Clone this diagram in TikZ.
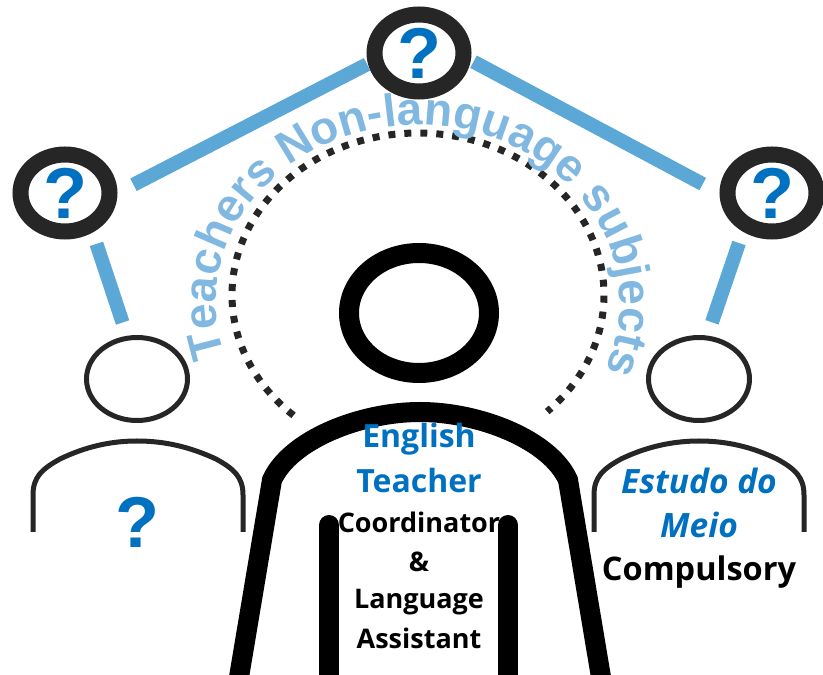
\documentclass[tikz,border=0pt]{standalone}
\usepackage{xcolor}
\usepackage{fontspec}
\setmainfont{Liberation Sans}
\newfontfamily\labelfont{Open Sans}
\usetikzlibrary{shapes.geometric, decorations.text}
\definecolor{inkdark}{HTML}{262626}
\definecolor{linkblue}{HTML}{5BA8D6}
\definecolor{arcblue}{HTML}{80B8E1}
\definecolor{textblue}{HTML}{0070C0}

\begin{document}
\begin{tikzpicture}[
      x=1pt, y=1pt,
      query/.style={ellipse, draw=inkdark, line width=16pt, fill=white, minimum width=89pt, minimum height=77pt, inner sep=0pt, text=textblue, font=\bfseries\fontsize{72}{72}\selectfont},
      head/.style={ellipse, draw=inkdark, line width=5pt, minimum width=101pt, minimum height=83pt},
      link/.style={draw=linkblue, line width=14pt},
      shoulder/.style={draw=inkdark, line width=5pt},
      limb/.style={line width=20pt},
      blue/.style={text=textblue, font=\labelfont\bfseries\fontsize{32}{32}\selectfont},
      black/.style={text=black, font=\labelfont\bfseries\fontsize{27}{27}\selectfont}
    ]
    \clip (0,0) rectangle (823,675);

    % Heads
    \node[head] (lefthead) at (137,296) {};
    \node[head] (righthead) at (699,296) {};
    \node[ellipse, draw=black, line width=20pt, minimum width=140pt, minimum height=120pt] (mainhead) at (419,362) {};

    % Question marks
    \node[query] (qleft) at (65,482) {\raisebox{-3pt}{?}};
    \node[query] (qtop) at (419,622) {\raisebox{-2pt}{?}};
    \node[query] (qright) at (772,482) {\raisebox{-3pt}{?}};

    % Links
    \draw[link, shorten <=12pt, shorten >=14pt] (qleft.-55) -- (lefthead.103);
    \draw[link, shorten <=18pt, shorten >=1pt] (qleft.east) -- (qtop.192);
    \draw[link, shorten <=3pt, shorten >=19pt] (qtop.-8) -- (qright.west);
    \draw[link, shorten <=12pt, shorten >=14pt] (qright.-127) -- (righthead.79);

    % Dotted arc
    \draw[inkdark, line width=7pt, dash pattern=on 7pt off 9pt] (418,380) ++(228:186 and 162) arc[start angle=228, end angle=-46, x radius=186, y radius=162];

    % Arc text
    \path[decorate, decoration={text along path, text align=center, text={|\bfseries\fontsize{46}{46}\selectfont\color{arcblue}|Teachers Non-language subjects}}]
      (418,372) ++(195:202 and 178) arc[start angle=195, end angle=-20, x radius=202, y radius=178];

    % Side bodies
    \draw[shoulder] (33,143) -- (33,180) .. controls (33,198) and (42,206) .. (60,216) .. controls (85,228) and (110,234) .. (137,234) .. controls (165,234) and (190,228) .. (216,216) .. controls (234,206) and (243,198) .. (243,180) -- (243,143);
    \draw[shoulder] (594,143) -- (594,180) .. controls (594,198) and (603,206) .. (621,216) .. controls (646,228) and (672,234) .. (699,234) .. controls (727,234) and (752,228) .. (777,216) .. controls (795,206) and (804,198) .. (804,180) -- (804,143);

    % Main body
    \draw[black, limb] (236,-20) -- (272,195) .. controls (290,235) and (360,263) .. (420,263) .. controls (480,263) and (550,235) .. (568,195) -- (604,-20);
    \draw[black, limb, line cap=round] (329,-20) -- (329,150);
    \draw[black, limb, line cap=round] (508,-20) -- (508,150);

    % Labels
    \node[blue] (english) at (419,236) {English};
    \node[blue] (teacher) at (419,194) {Teacher};
    \node[black] (coordinator) at (419,153) {Coordinator};
    \node[black] (amp) at (419,113) {\&};
    \node[black] (language) at (419,73) {Language};
    \node[black] (assistant) at (419,37) {Assistant};
    \node[blue, font=\labelfont\bfseries\itshape\fontsize{33.5}{33.5}\selectfont] (estudo) at (699,194) {Estudo do};
    \node[blue, font=\labelfont\bfseries\itshape\fontsize{33.5}{33.5}\selectfont] (meio) at (699,150) {Meio};
    \node[black, font=\labelfont\bfseries\fontsize{32.5}{32.5}\selectfont] (compulsory) at (699,103) {Compulsory};
    \node[text=textblue, font=\bfseries\fontsize{72}{72}\selectfont] (qbody) at (137,153) {?};
  \end{tikzpicture}
\end{document}
